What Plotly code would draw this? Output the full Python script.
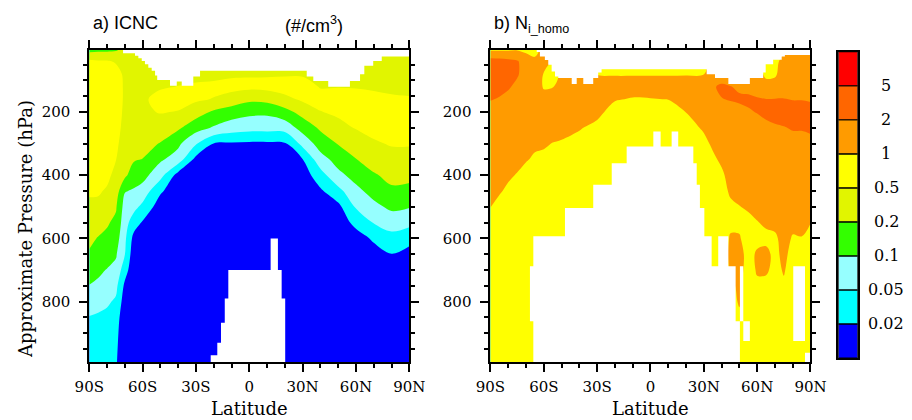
import numpy as np
import plotly.graph_objects as go

# ---------------------------------------------------------------------------
# Contour levels (#/cm3) and fill colours
# ---------------------------------------------------------------------------
levels = [0.02, 0.05, 0.1, 0.2, 0.5, 1, 2, 5]
colors = ["#0000ff", "#00ffff", "#96ffff", "#33ff00", "#e1f500",
          "#ffff00", "#ff9b00", "#ff6600", "#ff0000"]

lat_ticks = [-90, -60, -30, 0, 30, 60, 90]
lat_labels = ["90S", "60S", "30S", "0", "30N", "60N", "90N"]
p_ticks = [200, 400, 600, 800]

# pressure levels (hPa), shared by both fields
plev = [4, 40, 80, 120, 160, 200, 250, 300, 350, 400, 450, 500, 550,
        600, 650, 700, 750, 800, 850, 900, 992]

# ---------------------------------------------------------------------------
# a) ICNC  (#/cm3), rows = plev, columns = lat_a
# ---------------------------------------------------------------------------
lat_a = [-90, -85, -80, -75, -70, -65, -60, -50, -40, -30, -20, -10, 0,
         10, 20, 30, 40, 50, 60, 70, 80, 90]

icnc = [
    [0.162, 0.174, 0.174, 0.187, 0.263, 0.263, 0.289, 0.316, 0.316, 0.316, 0.316,
     0.316, 0.316, 0.316, 0.316, 0.316, 0.316, 0.316, 0.316, 0.316, 0.316, 0.316],
    [0.574, 0.536, 0.536, 0.456, 0.347, 0.347, 0.347, 0.347, 0.347, 0.347, 0.347,
     0.347, 0.347, 0.347, 0.347, 0.347, 0.347, 0.347, 0.347, 0.347, 0.347, 0.347],
    [0.758, 0.707, 0.707, 0.660, 0.416, 0.380, 0.380, 0.380, 0.380, 0.416, 0.380,
     0.436, 0.456, 0.456, 0.456, 0.456, 0.416, 0.416, 0.398, 0.398, 0.380, 0.380],
    [0.812, 0.758, 0.732, 0.707, 0.436, 0.398, 0.416, 0.456, 0.507, 0.536, 0.595,
     0.616, 0.595, 0.616, 0.660, 0.637, 0.478, 0.487, 0.478, 0.456, 0.436, 0.436],
    [0.812, 0.758, 0.732, 0.707, 0.436, 0.398, 0.436, 0.616, 0.637, 0.555, 0.478,
     0.347, 0.240, 0.263, 0.398, 0.555, 0.616, 0.616, 0.616, 0.574, 0.536, 0.518],
    [0.812, 0.758, 0.707, 0.683, 0.416, 0.380, 0.436, 0.518, 0.478, 0.302, 0.180,
     0.141, 0.119, 0.115, 0.157, 0.276, 0.487, 0.555, 0.616, 0.616, 0.595, 0.595],
    [0.758, 0.732, 0.683, 0.637, 0.380, 0.331, 0.347, 0.331, 0.230, 0.132, 0.0933,
     0.0707, 0.0637, 0.0637, 0.0660, 0.132, 0.230, 0.398, 0.518, 0.595, 0.595, 0.595],
    [0.758, 0.707, 0.660, 0.574, 0.331, 0.276, 0.276, 0.193, 0.115, 0.0536, 0.0196,
     0.0183, 0.0174, 0.0174, 0.0183, 0.0616, 0.137, 0.209, 0.316, 0.456, 0.525, 0.528],
    [0.707, 0.683, 0.616, 0.507, 0.289, 0.219, 0.197, 0.111, 0.0732, 0.0152, 0.0126,
     0.0121, 0.0121, 0.0121, 0.0126, 0.0196, 0.0758, 0.132, 0.196, 0.302, 0.380, 0.363],
    [0.660, 0.637, 0.574, 0.398, 0.240, 0.141, 0.127, 0.0637, 0.0139, 0.0115, 0.011,
     0.011, 0.011, 0.011, 0.011, 0.0121, 0.0347, 0.0841, 0.127, 0.187, 0.251, 0.251],
    [0.574, 0.536, 0.456, 0.316, 0.104, 0.0933, 0.0758, 0.0229, 0.011, 0.010, 0.010,
     0.010, 0.010, 0.010, 0.010, 0.011, 0.0174, 0.038, 0.0841, 0.127, 0.180, 0.168],
    [0.380, 0.416, 0.316, 0.219, 0.0758, 0.0616, 0.0398, 0.0126, 0.010, 0.010, 0.010,
     0.010, 0.010, 0.010, 0.010, 0.010, 0.0126, 0.0159, 0.0536, 0.0841, 0.115, 0.104],
    [0.302, 0.289, 0.219, 0.174, 0.066, 0.0316, 0.0183, 0.011, 0.010, 0.010, 0.010,
     0.010, 0.010, 0.010, 0.010, 0.010, 0.011, 0.0115, 0.0263, 0.0518, 0.0683, 0.0616],
    [0.240, 0.193, 0.174, 0.137, 0.0574, 0.0152, 0.0126, 0.010, 0.010, 0.010, 0.010,
     0.010, 0.010, 0.010, 0.010, 0.010, 0.010, 0.010, 0.0132, 0.0229, 0.0363, 0.0263],
    [0.187, 0.152, 0.137, 0.107, 0.051, 0.0115, 0.011, 0.010, 0.010, 0.010, 0.010,
     0.010, 0.010, 0.010, 0.010, 0.010, 0.010, 0.010, 0.0115, 0.0139, 0.0196, 0.0152],
    [0.132, 0.115, 0.0966, 0.0841, 0.0289, 0.011, 0.010, 0.010, 0.010, 0.010, 0.010,
     0.010, 0.010, 0.010, 0.010, 0.010, 0.010, 0.010, 0.010, 0.0115, 0.0139, 0.0121],
    [0.098, 0.0871, 0.0707, 0.0595, 0.0166, 0.010, 0.010, 0.010, 0.010, 0.010, 0.010,
     0.010, 0.010, 0.010, 0.010, 0.010, 0.010, 0.010, 0.010, 0.010, 0.0115, 0.010],
    [0.0707, 0.0637, 0.0555, 0.0436, 0.0126, 0.010, 0.010, 0.010, 0.010, 0.010, 0.010,
     0.010, 0.010, 0.010, 0.010, 0.010, 0.010, 0.010, 0.010, 0.010, 0.010, 0.010],
    [0.0478, 0.0436, 0.0398, 0.0289, 0.0115, 0.010, 0.010, 0.010, 0.010, 0.010, 0.010,
     0.010, 0.010, 0.010, 0.010, 0.010, 0.010, 0.010, 0.010, 0.010, 0.010, 0.010],
    [0.0347, 0.0331, 0.0316, 0.0251, 0.011, 0.010, 0.010, 0.010, 0.010, 0.010, 0.010,
     0.010, 0.010, 0.010, 0.010, 0.010, 0.010, 0.010, 0.010, 0.010, 0.010, 0.010],
    [0.0289, 0.0276, 0.0263, 0.0219, 0.010, 0.010, 0.010, 0.010, 0.010, 0.010, 0.010,
     0.010, 0.010, 0.010, 0.010, 0.010, 0.010, 0.010, 0.010, 0.010, 0.010, 0.010],
]

# missing data of field a: upper edge (step left edges / first valid pressure)
top_a_edges = [-90, -71, -64.3, -62.4, -60.5, -58.7, -56.8, -54.9, -53.0, -51.8,
               -44.6, -40.8, -38.0, -31.5, -27.7, 32.3, 36.0, 44.4, 56.6, 62.3,
               64.7, 69.7, 74.5, 90]
top_a_p = [4, 14, 22, 30, 39, 49, 60, 70, 85, 99, 117, 104, 117, 88, 70, 88,
           102, 120, 102, 81, 54, 39, 25]
# below-surface gaps of field a
gap_a_lat0 = [-21.7, -18.0, -15.9, -13.8, -11.8, 12.0, 16.1, 18.2]
gap_a_lat1 = [-18.0, -15.9, -13.8, -11.8, 12.0, 16.1, 18.2, 20.2]
gap_a_p0 = [970, 930, 867, 790, 700, 600, 700, 790]
gap_a_p1 = [1000, 1000, 1000, 1000, 1000, 1000, 1000, 1000]

# ---------------------------------------------------------------------------
# b) N_i_homo (#/cm3), rows = plev, columns = lat_b
# ---------------------------------------------------------------------------
lat_b = [-90, -85, -80, -75, -70, -65, -60, -55, -50, -40, -30, -20, -10, 0,
         10, 20, 30, 35, 40, 45, 50, 55, 60, 65, 70, 75, 80, 85, 90]

ni_homo = [
    [0.933, 0.933, 0.933, 0.966, 0.871, 0.812, 1.23, 1.01, 1.23, 1.23, 1.01, 0.758,
     0.758, 0.758, 0.758, 0.758, 0.871, 1.01, 1.23, 1.32, 1.32, 1.23, 1.15, 0.812,
     0.812, 0.871, 0.871, 0.871, 0.871],
    [2.89, 2.76, 2.52, 2.19, 1.41, 1.15, 1.32, 1.01, 1.23, 1.23, 1.01, 0.758,
     0.758, 0.758, 0.758, 0.758, 0.933, 1.07, 1.32, 1.41, 1.41, 1.32, 1.15, 0.812,
     0.841, 1.23, 1.27, 1.27, 1.27],
    [3.16, 3.02, 2.76, 2.19, 1.52, 1.46, 0.966, 0.758, 1.15, 1.32, 0.986, 0.966,
     0.966, 0.966, 0.966, 0.966, 0.986, 1.23, 1.41, 1.52, 1.52, 1.52, 1.32, 0.871,
     0.901, 1.41, 1.41, 1.41, 1.41],
    [2.63, 2.52, 2.19, 1.74, 1.52, 1.52, 0.933, 0.966, 1.37, 1.41, 1.27, 1.23,
     1.23, 1.23, 1.23, 1.27, 1.32, 1.87, 2.30, 2.04, 1.87, 1.80, 1.68, 1.27,
     1.32, 1.63, 1.63, 1.63, 1.57],
    [2.09, 1.91, 1.68, 1.52, 1.46, 1.46, 1.32, 1.32, 1.41, 1.41, 1.32, 1.04,
     0.966, 0.980, 1.01, 1.19, 1.32, 1.52, 1.96, 2.09, 2.19, 2.19, 2.09, 2.04,
     2.06, 2.04, 1.97, 1.97, 1.93],
    [1.52, 1.52, 1.46, 1.41, 1.41, 1.37, 1.37, 1.37, 1.37, 1.32, 1.15, 0.812,
     0.785, 0.785, 0.812, 1.01, 1.23, 1.37, 1.46, 1.63, 1.74, 1.93, 2.04, 2.40,
     2.63, 2.63, 2.52, 2.52, 2.40],
    [1.41, 1.41, 1.41, 1.37, 1.32, 1.27, 1.32, 1.23, 1.19, 1.04, 0.871, 0.732,
     0.70, 0.70, 0.70, 0.812, 1.07, 1.23, 1.32, 1.46, 1.52, 1.63, 1.74, 1.74,
     1.87, 1.96, 2.09, 2.09, 2.19],
    [1.41, 1.41, 1.37, 1.32, 1.23, 1.09, 1.06, 0.986, 0.946, 0.841, 0.758, 0.70,
     0.70, 0.70, 0.70, 0.70, 0.871, 1.09, 1.23, 1.41, 1.46, 1.52, 1.63, 1.63,
     1.68, 1.74, 1.74, 1.74, 1.80],
    [1.37, 1.37, 1.23, 1.19, 1.04, 0.933, 0.901, 0.871, 0.841, 0.758, 0.732, 0.70,
     0.70, 0.70, 0.70, 0.70, 0.785, 0.901, 1.11, 1.32, 1.41, 1.46, 1.52, 1.57,
     1.63, 1.63, 1.63, 1.63, 1.63],
    [1.27, 1.23, 1.09, 0.966, 0.841, 0.812, 0.812, 0.785, 0.758, 0.70, 0.70, 0.70,
     0.70, 0.70, 0.70, 0.70, 0.732, 0.812, 0.901, 1.23, 1.32, 1.37, 1.41, 1.46,
     1.52, 1.57, 1.52, 1.52, 1.52],
    [1.15, 1.06, 0.901, 0.812, 0.758, 0.732, 0.758, 0.732, 0.70, 0.70, 0.70, 0.70,
     0.70, 0.70, 0.70, 0.70, 0.70, 0.758, 0.812, 1.09, 1.19, 1.23, 1.27, 1.37,
     1.41, 1.46, 1.41, 1.41, 1.37],
    [1.01, 0.841, 0.758, 0.758, 0.70, 0.70, 0.70, 0.70, 0.70, 0.70, 0.70, 0.70,
     0.70, 0.70, 0.70, 0.70, 0.70, 0.732, 0.758, 0.901, 0.986, 1.07, 1.15, 1.23,
     1.27, 1.37, 1.27, 1.30, 1.19],
    [0.812, 0.758, 0.70, 0.70, 0.70, 0.70, 0.70, 0.70, 0.70, 0.70, 0.70, 0.70,
     0.70, 0.70, 0.70, 0.70, 0.70, 0.70, 0.732, 0.871, 0.901, 0.871, 0.980, 1.07,
     1.11, 1.23, 1.11, 1.15, 1.01],
    [0.758, 0.732, 0.70, 0.70, 0.70, 0.70, 0.70, 0.70, 0.70, 0.70, 0.70, 0.70,
     0.70, 0.70, 0.70, 0.70, 0.70, 0.70, 0.70, 1.07, 1.04, 0.812, 0.871, 0.901,
     0.933, 1.15, 0.966, 0.980, 0.871],
    [0.70, 0.70, 0.70, 0.70, 0.70, 0.70, 0.70, 0.70, 0.70, 0.70, 0.70, 0.70,
     0.70, 0.70, 0.70, 0.70, 0.70, 0.70, 0.70, 1.15, 1.19, 0.841, 1.07, 1.11,
     0.901, 1.11, 0.871, 0.871, 0.812],
    [0.70, 0.70, 0.70, 0.70, 0.70, 0.70, 0.70, 0.70, 0.70, 0.70, 0.70, 0.70,
     0.70, 0.70, 0.70, 0.70, 0.70, 0.70, 0.70, 1.07, 1.15, 0.841, 1.04, 1.07,
     0.871, 1.04, 0.812, 0.812, 0.785],
    [0.70, 0.70, 0.70, 0.70, 0.70, 0.70, 0.70, 0.70, 0.70, 0.70, 0.70, 0.70,
     0.70, 0.70, 0.70, 0.70, 0.70, 0.70, 0.70, 0.933, 1.07, 0.812, 0.933, 0.871,
     0.812, 0.933, 0.785, 0.785, 0.758],
    [0.70, 0.70, 0.70, 0.70, 0.70, 0.70, 0.70, 0.70, 0.70, 0.70, 0.70, 0.70,
     0.70, 0.70, 0.70, 0.70, 0.70, 0.70, 0.70, 0.871, 1.04, 0.785, 0.871, 0.812,
     0.785, 0.871, 0.758, 0.758, 0.758],
    [0.70, 0.70, 0.70, 0.70, 0.70, 0.70, 0.70, 0.70, 0.70, 0.70, 0.70, 0.70,
     0.70, 0.70, 0.70, 0.70, 0.70, 0.70, 0.70, 0.812, 0.933, 0.758, 0.812, 0.785,
     0.758, 0.812, 0.758, 0.758, 0.758],
    [0.70, 0.70, 0.70, 0.70, 0.70, 0.70, 0.70, 0.70, 0.70, 0.70, 0.70, 0.70,
     0.70, 0.70, 0.70, 0.70, 0.70, 0.70, 0.70, 0.758, 0.812, 0.758, 0.758, 0.758,
     0.758, 0.785, 0.758, 0.758, 0.758],
    [0.70, 0.70, 0.70, 0.70, 0.70, 0.70, 0.70, 0.70, 0.70, 0.70, 0.70, 0.70,
     0.70, 0.70, 0.70, 0.70, 0.70, 0.70, 0.70, 0.758, 0.758, 0.758, 0.758, 0.758,
     0.758, 0.758, 0.732, 0.732, 0.732],
]

top_b_edges = [-90, -64.0, -62.2, -59.4, -57.5, -55.6, -53.7, -51.9, -44.3, -41.5,
               -37.8, -32.2, -29.4, -27.5, 31.6, 36.3, 43.8, 55.9, 63.4, 64.8,
               69.0, 73.8, 75.6, 90]
top_b_p = [4, 10, 25, 36, 51, 72, 88, 93, 112, 93, 112, 93, 75, 65, 81, 93,
           112, 93, 75, 49, 35, 25, 20]
gap_b_lat0 = [-67.8, -65.9, -48.1, -32.2, -21.8, -13.4, 1.6, 5.7, 11.9, 15.6, 24.1,
              26.0, 27.8, 30.3, 34.4, 38.1, 43.8, 47.9, 50.3, 52.2, 80.3, 86.9]
gap_b_lat1 = [-65.9, -48.1, -32.2, -21.8, -13.4, 1.6, 5.7, 11.9, 15.6, 24.1, 26.0,
              27.8, 30.3, 34.4, 38.1, 43.8, 47.9, 50.3, 52.2, 55.9, 86.9, 90.0]
gap_b_p0 = [688, 593, 504, 430, 362, 309, 262, 309, 262, 309, 362,
            430, 504, 593, 688, 593, 688, 862, 688, 862, 688, 962]
gap_b_p1 = [862, 1000, 1000, 1000, 1000, 1000, 1000, 1000, 1000, 1000, 1000,
            1000, 1000, 1000, 1000, 1000, 1000, 1000, 862, 925, 925, 1000]

assert all(len(r) == len(lat_a) for r in icnc) and len(icnc) == len(plev)
assert all(len(r) == len(lat_b) for r in ni_homo) and len(ni_homo) == len(plev)

# ---------------------------------------------------------------------------
# Map concentrations onto a band index: level k sits at index k+1, so that
# evenly spaced contours (start=1, size=1) fall exactly on the uneven levels.
# ---------------------------------------------------------------------------
edges_log = np.log10([0.008] + levels + [12.0])


def band_index(values):
    return np.interp(np.log10(np.asarray(values, float)), edges_log,
                     np.arange(len(edges_log)))


cscale = [[k / (len(colors) - 1), c] for k, c in enumerate(colors)]

fig = go.Figure()


def add_field(lat, field, xa, ya):
    fig.add_trace(go.Contour(
        x=lat, y=plev, z=band_index(field), autocontour=False,
        contours=dict(start=1, end=len(levels), size=1, coloring="fill",
                      showlines=False),
        line=dict(width=0), colorscale=cscale, showscale=False,
        hoverinfo="skip", xaxis=xa, yaxis=ya))


def add_missing(edges, ptop, g0, g1, gp0, gp1, xa, ya):
    xs, ys = [edges[0]], [-50]
    for i, p in enumerate(ptop):
        xs += [edges[i], edges[i + 1]]
        ys += [p, p]
    xs += [edges[-1], None]
    ys += [-50, None]
    for a, b, c, d in zip(g0, g1, gp0, gp1):
        xs += [a, b, b, a, a, None]
        ys += [c, c, d, d, c, None]
    fig.add_trace(go.Scatter(
        x=xs, y=ys, mode="lines", fill="toself", fillcolor="white",
        line=dict(width=0, color="white"), hoverinfo="skip",
        showlegend=False, xaxis=xa, yaxis=ya))


add_field(lat_a, icnc, "x", "y")
add_missing(top_a_edges, top_a_p, gap_a_lat0, gap_a_lat1, gap_a_p0, gap_a_p1,
            "x", "y")
add_field(lat_b, ni_homo, "x2", "y2")
add_missing(top_b_edges, top_b_p, gap_b_lat0, gap_b_lat1, gap_b_p0, gap_b_p1,
            "x2", "y2")

# label bar: one box per colour band
nb = len(colors)
fig.add_trace(go.Bar(
    x=[0] * nb, y=[1] * nb, base=list(range(nb)), width=1,
    marker=dict(color=colors, line=dict(color="black", width=1.2)),
    xaxis="x3", yaxis="y3", hoverinfo="skip", showlegend=False))

serif = "DejaVu Serif"
sans = "Liberation Sans"

frame = dict(showline=True, linewidth=2, linecolor="black", mirror="ticks",
             ticks="outside", tickcolor="black", tickwidth=2, ticklen=8,
             showgrid=False, zeroline=False, automargin=False,
             tickfont=dict(family=serif, size=15, color="black"))
minor_style = dict(ticks="outside", ticklen=4, tickwidth=1.5, tickcolor="black",
                   showgrid=False)

xa = dict(frame, range=[-90, 90], tickmode="array", tickvals=lat_ticks,
          ticktext=lat_labels, ticklabelstandoff=2,
          minor=dict(minor_style, tickvals=list(range(-80, 90, 10))))
ya = dict(frame, range=[992, 4], tickmode="array", tickvals=p_ticks,
          ticktext=[str(p) for p in p_ticks], ticklabelstandoff=6,
          minor=dict(minor_style, tickvals=list(range(50, 1000, 50))))

ydom = [0.1374, 0.8810]
bar_axis = dict(showticklabels=False, ticks="", showline=True, mirror=True,
                linewidth=1.5, linecolor="black", showgrid=False,
                zeroline=False, fixedrange=True, automargin=False)

annotations = [
    dict(text="a) ICNC", x=0.0995, y=0.974, xanchor="left", yanchor="top",
         font=dict(family=sans, size=18, color="black")),
    dict(text="(#/cm<sup>3</sup>)", x=0.3103, y=0.974, xanchor="left",
         yanchor="top", font=dict(family=sans, size=18, color="black")),
    dict(text="b) N<sub>i_homo</sub>", x=0.5391, y=0.974, xanchor="left",
         yanchor="top", font=dict(family=sans, size=18, color="black")),
    dict(text="Latitude", x=0.2734, y=0.0, xanchor="center", yanchor="bottom",
         borderpad=0, font=dict(family=serif, size=18, color="black")),
    dict(text="Latitude", x=0.7133, y=0.0, xanchor="center", yanchor="bottom",
         borderpad=0, font=dict(family=serif, size=18, color="black")),
    dict(text="Approximate Pressure (hPa)", x=0.0285, y=0.4548, textangle=-90,
         xanchor="center", yanchor="middle",
         font=dict(family=serif, size=18, color="black")),
]
for k, lev in enumerate(levels):
    annotations.append(dict(
        text=f"{lev:g}", x=0.9715, y=k + 1, xref="paper", yref="y3",
        xanchor="center", yanchor="middle",
        font=dict(family=serif, size=16, color="black")))
for a in annotations:
    a.setdefault("xref", "paper")
    a.setdefault("yref", "paper")
    a["showarrow"] = False

fig.update_layout(
    width=912, height=420, autosize=False,
    margin=dict(l=0, r=0, t=0, b=0, pad=0, autoexpand=False),
    paper_bgcolor="white", plot_bgcolor="white", showlegend=False,
    xaxis=dict(xa, domain=[0.0979, 0.4488], anchor="y"),
    yaxis=dict(ya, domain=ydom, anchor="x"),
    xaxis2=dict(xa, domain=[0.5378, 0.8887], anchor="y2"),
    yaxis2=dict(ya, domain=ydom, anchor="x2"),
    xaxis3=dict(bar_axis, domain=[0.9192, 0.9405], anchor="y3",
                range=[-0.5, 0.5]),
    yaxis3=dict(bar_axis, domain=[0.1476, 0.8769], anchor="x3",
                range=[0, nb]),
    annotations=annotations,
)

fig.write_html("out.html")
